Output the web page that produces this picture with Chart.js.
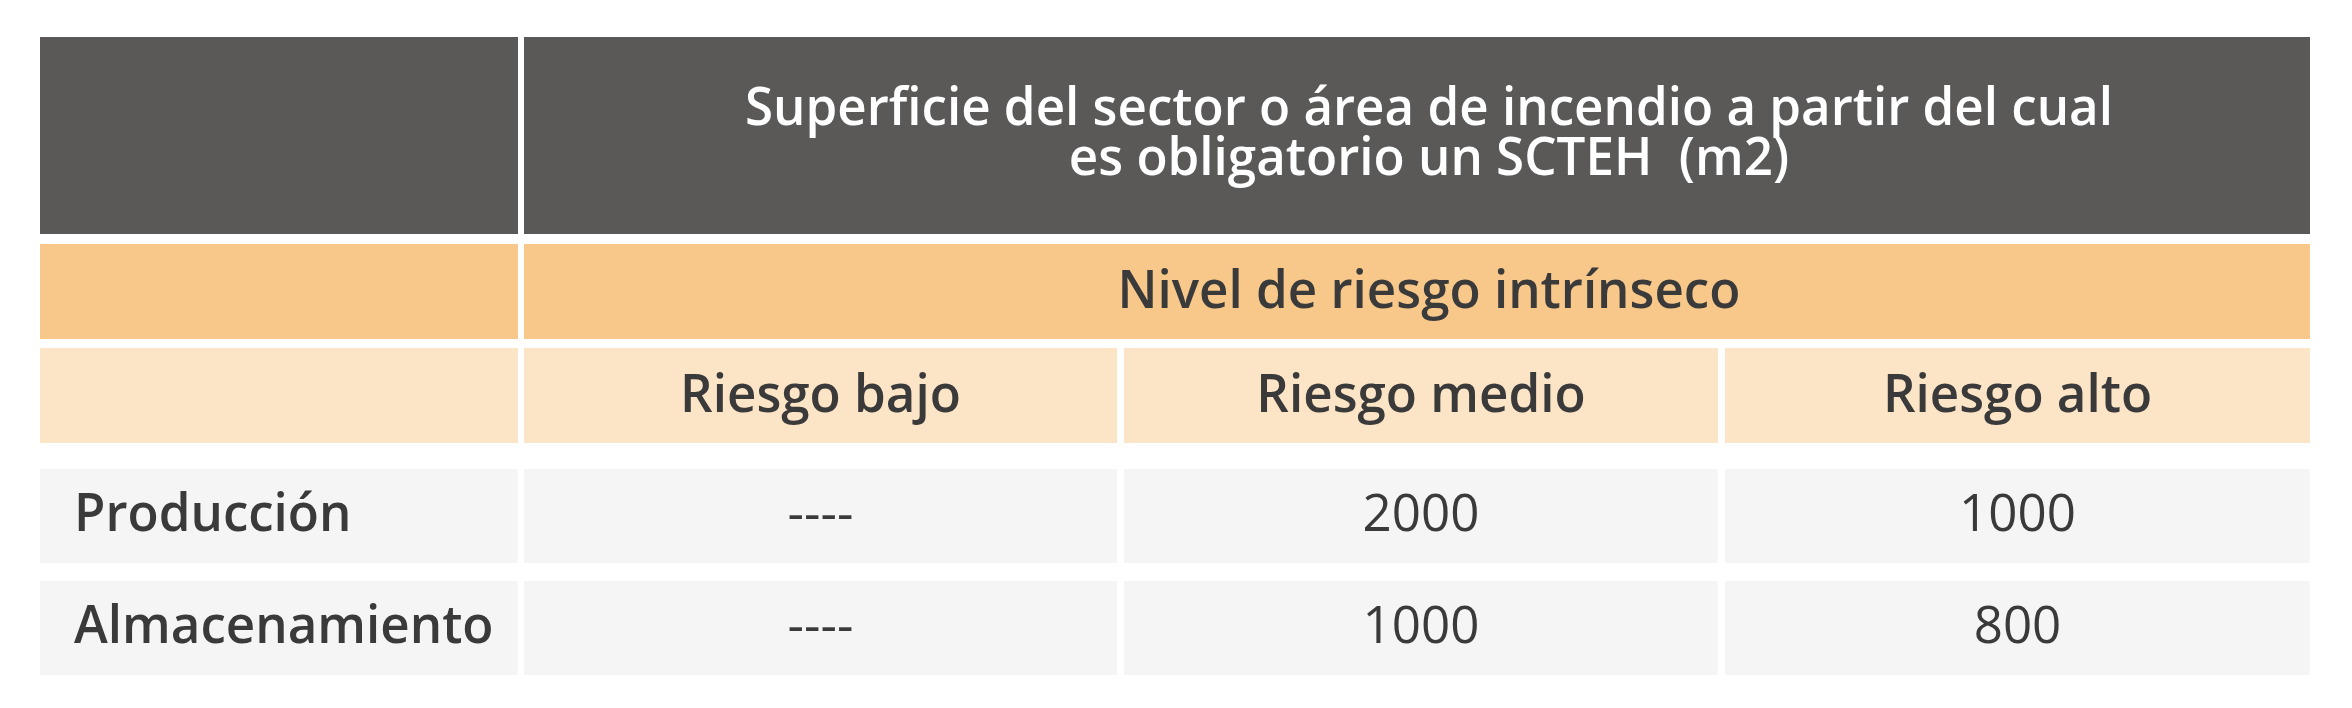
<!DOCTYPE html>
<html><head><meta charset="utf-8">
<script src="https://cdn.jsdelivr.net/npm/chart.js@4.4.1/dist/chart.umd.min.js"></script>
<style>html,body{margin:0;padding:0;background:#fff}canvas{display:block}</style>
</head><body>
<div style="width:2352px;height:708px"><canvas id="c"></canvas></div>
<script>
const titleLines = ["Superficie del sector o área de incendio a partir del cual", "es obligatorio un SCTEH  (m2)"];
const groupLabel = "Nivel de riesgo intrínseco";
const categories = ["Riesgo bajo", "Riesgo medio", "Riesgo alto"];
const rowLabels = ["Producción", "Almacenamiento"];
const produccion = ["----", "2000", "1000"];
const almacenamiento = ["----", "1000", "800"];
const seriesValues = [produccion, almacenamiento];

const colX = [[40,518],[524,1117],[1124,1718],[1725,2310]];
const bands = {dark:[37,234], orange:[244,339], light:[348,443], rows:[[469,563],[581,675]]};

const tablePlugin = {
  id:'table',
  afterDraw(chart){
    const ctx = chart.ctx;
    ctx.save();
    const rect=(x0,x1,y0,y1,c)=>{ctx.fillStyle=c;ctx.fillRect(x0,y0,x1-x0,y1-y0);};
    rect(colX[0][0],colX[0][1],...bands.dark,'#5a5958');
    rect(colX[1][0],colX[3][1],...bands.dark,'#5a5958');
    rect(colX[0][0],colX[0][1],...bands.orange,'#f8c88b');
    rect(colX[1][0],colX[3][1],...bands.orange,'#f8c88b');
    colX.forEach(c=>rect(c[0],c[1],...bands.light,'#fce4c6'));
    bands.rows.forEach(r=>colX.forEach(c=>rect(c[0],c[1],r[0],r[1],'#f5f5f5')));
    ctx.font = '600 52px "Open Sans"';
    const k = 1368/ctx.measureText(titleLines[0]).width;
    const txt=(s,x,y,color,weight,align)=>{
      ctx.save();ctx.font=weight+' 52px "Open Sans"';ctx.fillStyle=color;
      ctx.textBaseline='middle';ctx.textAlign=align||'center';
      ctx.translate(x,y);ctx.scale(k,1);ctx.fillText(s,0,0);ctx.restore();
    };
    const cx=(colX[1][0]+colX[3][1])/2;
    txt(titleLines[0],cx+12,110,'#ffffff','600');
    txt(titleLines[1],cx+12,160,'#ffffff','600');
    txt(groupLabel,cx+12,293,'#3a3a3a','600');
    categories.forEach((s,i)=>txt(s,(colX[i+1][0]+colX[i+1][1])/2,397,'#3a3a3a','600'));
    rowLabels.forEach((s,r)=>{
      const y=(bands.rows[r][0]+bands.rows[r][1])/2;
      txt(s,74,y,'#3a3a3a','600','left');
      seriesValues[r].forEach((v,i)=>txt(v,(colX[i+1][0]+colX[i+1][1])/2,y,'#3a3a3a','400'));
    });
    ctx.restore();
  }
};

new Chart(document.getElementById('c'),{
  type:'bar',
  data:{labels:categories,datasets:[{data:[0,0,0]}]},
  options:{responsive:true,maintainAspectRatio:false,animation:false,
    plugins:{legend:{display:false},tooltip:{enabled:false}},
    scales:{x:{display:false},y:{display:false}}},
  plugins:[tablePlugin]
});
</script>
</body></html>
